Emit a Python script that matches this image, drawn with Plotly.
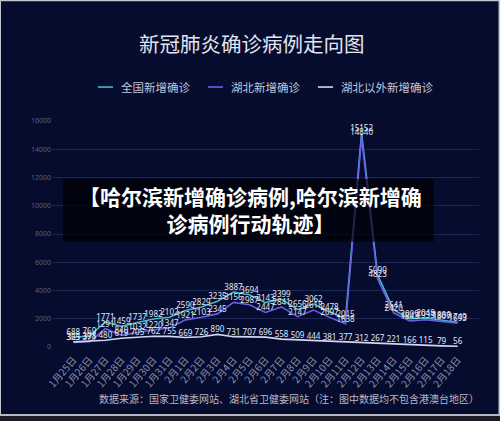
import plotly.graph_objects as go

dates = ["1月25日","1月26日","1月27日","1月28日","1月29日","1月30日","1月31日",
         "2月1日","2月2日","2月3日","2月4日","2月5日","2月6日","2月7日","2月8日",
         "2月9日","2月10日","2月11日","2月12日","2月13日","2月14日","2月15日",
         "2月16日","2月17日","2月18日"]
national = [688, 769, 1771, 1459, 1737, 1982, 2102, 2590, 2829, 3235, 3887, 3694, 3143,
            3399, 2656, 3062, 2478, 2015, 15152, 5090, 2641, 2009, 2048, 1886, 1749]
hubei = [323, 371, 1291, 840, 1032, 1220, 1347, 1921, 2103, 2345, 3156, 2987, 2447,
         2841, 2147, 2618, 2097, 1638, 14840, 4823, 2420, 1843, 1933, 1807, 1693]
outside = [365, 398, 480, 619, 705, 762, 755, 669, 726, 890, 731, 707, 696,
           558, 509, 444, 381, 377, 312, 267, 221, 166, 115, 79, 56]
series_names = ["全国新增确诊", "湖北新增确诊", "湖北以外新增确诊"]
series_colors = ["#46b8cc", "#6a5ee6", "#d6d6f0"]

title_text = "新冠肺炎确诊病例走向图"
source_text = "数据来源：国家卫健委网站、湖北省卫健委网站（注：图中数据均不包含港澳台地区）"
overlay_text = "【哈尔滨新增确诊病例,哈尔滨新增确<br>诊病例行动轨迹】"

W, H = 500, 421
L, R, T, B = 52, 479, 121, 347.3
FONT = "Noto Sans CJK SC, Noto Sans, sans-serif"

def px(x):
    return (x - L) / (R - L)

def py(y):
    return (B - y) / (B - T)

fig = go.Figure()
for name, vals, col in zip(series_names, [national, hubei, outside], series_colors):
    fig.add_trace(go.Scatter(
        x=dates, y=vals, name=name, mode="lines+text",
        line=dict(color=col, width=1.6),
        text=[str(v) for v in vals], textposition="top center",
        textfont=dict(size=8, color="#e4e6f2", family="Noto Sans, sans-serif"),
        showlegend=False, cliponaxis=False,
    ))

shapes = []
annotations = []

# frame border
shapes.append(dict(type="rect", xref="paper", yref="paper",
                   x0=px(-5), x1=px(1), y0=py(-5), y1=py(426),
                   line=dict(width=0), fillcolor="#c4c4cc", layer="below"))
shapes.append(dict(type="rect", xref="paper", yref="paper",
                   x0=px(498.5), x1=px(505), y0=py(-5), y1=py(426),
                   line=dict(width=0), fillcolor="#c4c4cc", layer="below"))
shapes.append(dict(type="rect", xref="paper", yref="paper",
                   x0=px(-5), x1=px(505), y0=py(-5), y1=py(1),
                   line=dict(width=0), fillcolor="#c4c4cc", layer="below"))
shapes.append(dict(type="rect", xref="paper", yref="paper",
                   x0=px(-5), x1=px(505), y0=py(414.5), y1=py(416.5),
                   line=dict(width=0), fillcolor="#b8b8c0", layer="below"))
shapes.append(dict(type="rect", xref="paper", yref="paper",
                   x0=px(-5), x1=px(505), y0=py(416.5), y1=py(426),
                   line=dict(width=0), fillcolor="#1c1c22", layer="below"))

# legend (manual)
leg_y = 87
leg_line_x = [98, 208, 318]
for name, col, lx in zip(series_names, series_colors, leg_line_x):
    shapes.append(dict(type="line", xref="paper", yref="paper",
                       x0=px(lx), x1=px(lx + 15), y0=py(leg_y), y1=py(leg_y),
                       line=dict(color=col, width=1.6)))
    annotations.append(dict(text=name, xref="paper", yref="paper",
                            x=px(lx + 21), y=py(leg_y), xanchor="left", yanchor="middle",
                            showarrow=False,
                            font=dict(size=11.5, color="#c2c6da", family=FONT)))

# title
annotations.append(dict(text=title_text, xref="paper", yref="paper",
                        x=px(252), y=py(43), xanchor="center", yanchor="middle",
                        showarrow=False,
                        font=dict(size=20.5, color="#e2e4ee", family=FONT)))
# source
annotations.append(dict(text=source_text, xref="paper", yref="paper",
                        x=px(481), y=py(399), xanchor="right", yanchor="middle",
                        showarrow=False,
                        font=dict(size=10, color="#b4b8cc", family=FONT)))

# overlay box
shapes.append(dict(type="rect", xref="paper", yref="paper",
                   x0=px(63), x1=px(434), y0=py(242), y1=py(179),
                   line=dict(width=0), fillcolor="rgba(0,0,0,0.68)", layer="above"))
annotations.append(dict(text="<b>" + overlay_text + "</b>", xref="paper", yref="paper",
                        x=px(250), y=py(210), xanchor="center", yanchor="middle",
                        align="center", showarrow=False,
                        font=dict(size=21, color="#ffffff", family=FONT)))

fig.update_layout(
    width=W, height=H, autosize=False,
    margin=dict(l=L, r=W - R, t=T, b=H - B),
    paper_bgcolor="#050c2e", plot_bgcolor="rgba(0,0,0,0)",
    showlegend=False,
    shapes=shapes, annotations=annotations,
    xaxis=dict(type="category", tickangle=-50, showgrid=False, zeroline=False,
               showline=False, ticks="", ticklabelstandoff=4,
               tickfont=dict(size=10, color="#8a90b6", family=FONT)),
    yaxis=dict(range=[0, 16000], dtick=2000, tickformat="d", showgrid=True,
               gridcolor="rgba(70,90,150,0.35)", gridwidth=1,
               zeroline=False, showline=False, ticks="",
               tickfont=dict(size=7, color="#58607e", family="Noto Sans, sans-serif")),
)

fig.write_html("out.html")
